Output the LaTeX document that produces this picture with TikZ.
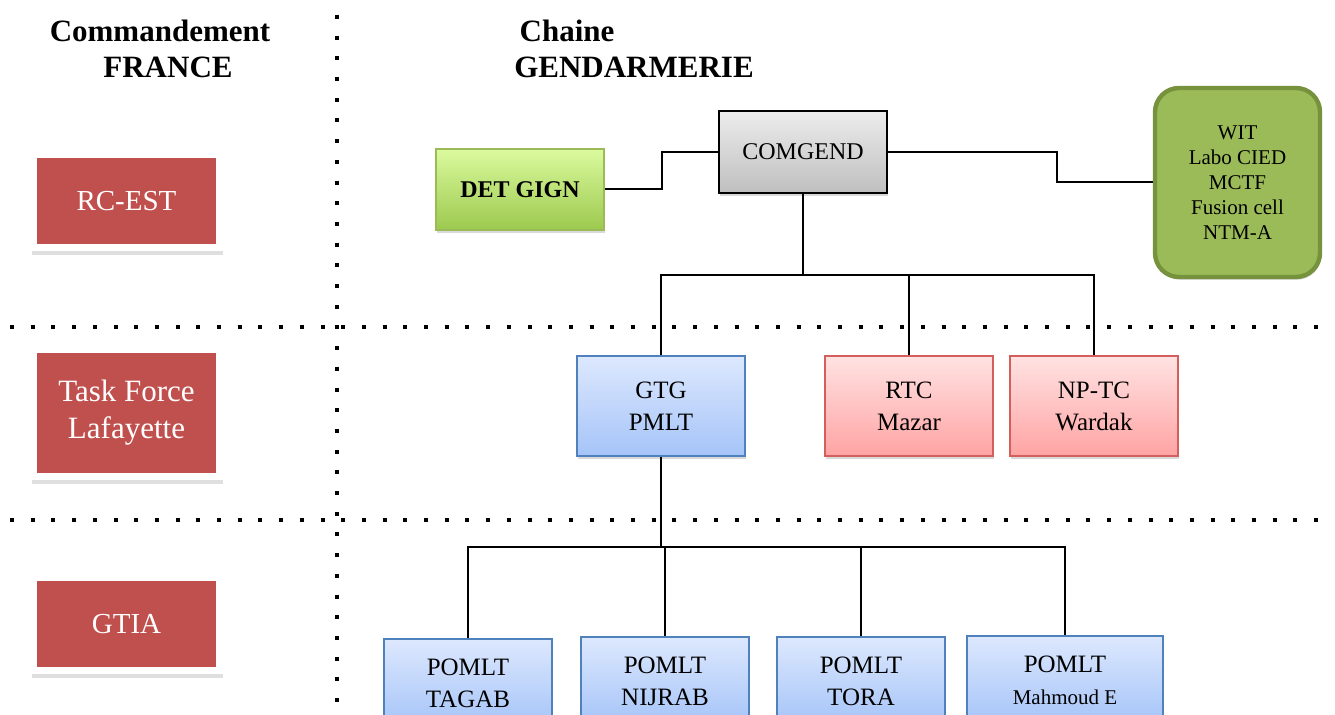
\documentclass[tikz,border=0pt]{standalone}
\usepackage{fontspec}
\setmainfont{Liberation Serif}
\usetikzlibrary{shadows}
\definecolor{rouge}{HTML}{C0504D}
\definecolor{vertclair}{HTML}{DBFA9E}
\definecolor{vertfonce}{HTML}{9CC94E}
\definecolor{vertbord}{HTML}{9BBB59}
\definecolor{olive}{HTML}{9BBB59}
\definecolor{olivebord}{HTML}{76923C}
\definecolor{bleuclair}{HTML}{DDE8FE}
\definecolor{bleufonce}{HTML}{A5C4F8}
\definecolor{bleubord}{HTML}{4F81BD}
\definecolor{roseclair}{HTML}{FFE2E2}
\definecolor{rosefonce}{HTML}{FFA3A3}
\definecolor{rosebord}{HTML}{D25F5C}
\begin{document}
\begin{tikzpicture}[x=0.5pt,y=-0.5pt,
  sep/.style={line width=2pt,dash pattern=on 2pt off 8.35pt},
  ombre/.style={drop shadow={shadow xshift=0.6pt,shadow yshift=-1.4pt,opacity=0.3}},
  titre/.style={font=\bfseries\fontsize{15.5}{18}\selectfont},
  cadre/.style={fill=rouge,draw=white,line width=3.5pt,text=white,minimum width=93pt,
    align=center,font=\fontsize{14.5}{18.5}\selectfont,
    drop shadow={shadow xshift=0.4pt,shadow yshift=-2.8pt,shadow scale=1.025,opacity=0.25}},
  unite/.style={draw,line width=1pt,minimum width=84pt,minimum height=50pt,align=center,
    font=\fontsize{12.5}{16}\selectfont,ombre},
  bleu/.style={unite,draw=bleubord,top color=bleuclair,bottom color=bleufonce},
  rose/.style={unite,draw=rosebord,top color=roseclair,bottom color=rosefonce},
  lien/.style={line width=1pt}]
  \useasboundingbox (0,0) rectangle (1335,715);
  \node[titre] (cmdt) at (160,31) {Commandement};
  \node[titre] (fr) at (168,67) {FRANCE};
  \node[titre] (chaine) at (567,31) {Chaine};
  \node[titre] (gend) at (634,67) {GENDARMERIE};
  \draw[sep] (337,15) -- (337,715);
  \foreach \y in {327,520}
    \draw[sep] (10,\y) -- (1335,\y);
  \node[cadre,minimum height=46.5pt] (rcest) at (126.5,201.5) {RC-EST};
  \node[cadre,minimum height=63.5pt,font=\fontsize{15.5}{18.5}\selectfont] (tfl) at (126.5,413)
    {Task Force\\Lafayette};
  \node[cadre,minimum height=46.5pt] (gtia) at (126.5,624.5) {GTIA};
  \node[unite,draw=vertbord,top color=vertclair,bottom color=vertfonce,minimum height=40.5pt,
    font=\bfseries\fontsize{12}{14}\selectfont] (detgign) at (520,189.5) {DET GIGN};
  \node[unite,top color=gray!15,bottom color=gray!50,minimum height=41pt,
    font=\fontsize{12}{14}\selectfont] (comgend) at (803,152) {COMGEND};
  \node[unite,fill=olive,draw=olivebord,line width=2.2pt,rounded corners=12pt,minimum width=82.5pt,
    minimum height=94.5pt,font=\fontsize{10.5}{12.5}\selectfont] (wit) at (1237.5,182.5)
    {WIT\\Labo CIED\\MCTF\\Fusion cell\\NTM-A};
  \node[bleu] (gtg) at (661,406) {GTG\\PMLT};
  \node[rose] (rtc) at (909,406.5) {RTC\\Mazar};
  \node[rose] (nptc) at (1094,406.5) {NP-TC\\Wardak};
  \node[bleu,minimum height=44pt] (tagab) at (468,683) {POMLT\\TAGAB};
  \node[bleu,minimum height=44pt] (nijrab) at (665,681) {POMLT\\NIJRAB};
  \node[bleu,minimum height=44pt] (tora) at (861,681) {POMLT\\TORA};
  \node[bleu,minimum height=44pt,minimum width=98pt] (mahmoud) at (1065,680)
    {POMLT\\{\fontsize{10.5}{16}\selectfont Mahmoud E}};
  \draw[lien] (detgign.east) -- ++(57,0) |- (comgend.west);
  \draw[lien] (comgend.east) -- ++(169,0) |- (wit.west);
  \draw[lien] (comgend.south) -- ++(0,81) coordinate (nivA);
  \foreach \n in {gtg,rtc,nptc}
    \draw[lien] (nivA) -| (\n.north);
  \draw[lien] (gtg.south) -- ++(0,90) coordinate (nivB);
  \foreach \n in {tagab,nijrab,tora,mahmoud}
    \draw[lien] (nivB) -| (\n.north);
\end{tikzpicture}
\end{document}
